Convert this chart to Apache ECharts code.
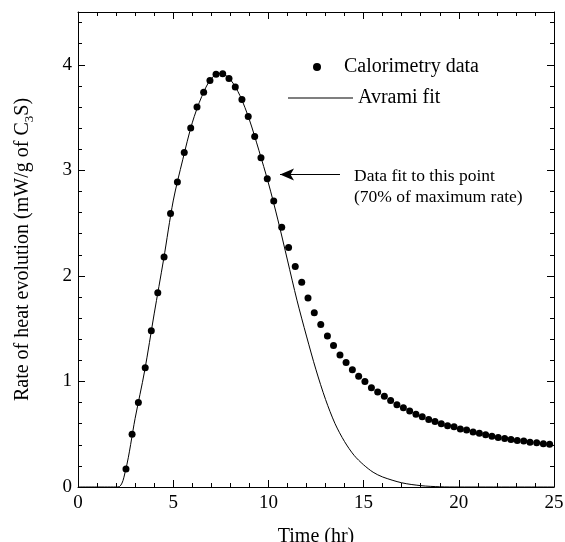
<!DOCTYPE html>
<html>
<head>
<meta charset="utf-8">
<script src="https://cdn.jsdelivr.net/npm/echarts@6/dist/echarts.min.js"></script>
<style>
  html, body { margin: 0; padding: 0; background: #fff; }
  #chart { width: 565px; height: 542px; }
</style>
</head>
<body>
<div id="chart"></div>
<script>
// calorimetry measurements (time in hr, rate in mW/g)
var dataTime = [2.52, 2.84, 3.17, 3.53, 3.85, 4.19, 4.52, 4.86, 5.22, 5.58, 5.92, 6.25, 6.60, 6.93,
    7.25, 7.60, 7.93, 8.26, 8.61, 8.94, 9.28, 9.61, 9.94, 10.28, 10.70, 11.06, 11.41, 11.75, 12.08,
    12.41, 12.75, 13.10, 13.42, 13.76, 14.08, 14.41, 14.74, 15.07, 15.41, 15.74, 16.09, 16.42, 16.75,
    17.09, 17.42, 17.75, 18.08, 18.42, 18.75, 19.08, 19.41, 19.75, 20.08, 20.41, 20.75, 21.08, 21.41,
    21.74, 22.07, 22.41, 22.74, 23.07, 23.41, 23.74, 24.09, 24.44, 24.77];
var dataRate = [0.17, 0.50, 0.80, 1.13, 1.48, 1.84, 2.18, 2.59, 2.89, 3.17, 3.40, 3.60, 3.74, 3.85,
    3.91, 3.915, 3.87, 3.79, 3.67, 3.51, 3.32, 3.12, 2.92, 2.71, 2.46, 2.27, 2.09, 1.94, 1.79,
    1.65, 1.54, 1.43, 1.34, 1.25, 1.18, 1.11, 1.05, 1.00, 0.94, 0.90, 0.86, 0.82, 0.78,
    0.75, 0.72, 0.69, 0.665, 0.64, 0.62, 0.60, 0.58, 0.57, 0.55, 0.54, 0.52, 0.51, 0.495,
    0.48, 0.47, 0.46, 0.45, 0.44, 0.435, 0.425, 0.42, 0.41, 0.405];

// avrami fit curve
var fitTime = [0, 2.1, 2.5, 3, 3.5, 4, 4.5, 5, 5.5, 6, 6.5, 7, 7.5, 8, 8.5, 9, 9.5, 10, 10.5, 11,
    11.5, 12, 12.5, 13, 13.5, 14, 14.5, 15, 15.5, 16, 17, 18, 19, 20, 25];
var fitRate = [0, 0, 0.16, 0.65, 1.10, 1.64, 2.16, 2.71, 3.10, 3.45, 3.70, 3.87, 3.92, 3.86, 3.71, 3.48,
    3.19, 2.88, 2.53, 2.15, 1.77, 1.43, 1.11, 0.83, 0.60, 0.43, 0.30, 0.21, 0.14, 0.095, 0.04, 0.013,
    0.002, 0, 0];

var xTicks = [0, 5, 10, 15, 20, 25];
var yTicks = [0, 1, 2, 3, 4];

var serif = 'Liberation Serif';

function zip(a, b) {
    var out = [];
    a.forEach(function (v, i) { out.push([v, b[i]]); });
    return out;
}

function xAxisCfg(pos, showLabel) {
    return {
        type: 'value', position: pos, min: xTicks[0], max: xTicks[xTicks.length - 1], interval: 5,
        name: showLabel ? 'Time (hr)' : '', nameLocation: 'middle', nameGap: 40,
        nameTextStyle: { fontFamily: serif, fontSize: 20, color: '#000' },
        axisLine: { show: true, onZero: false, lineStyle: { color: '#000', width: 1 } },
        axisTick: { show: true, inside: true, length: 7, lineStyle: { color: '#000' } },
        minorTick: { show: true, splitNumber: 5, length: 4, lineStyle: { color: '#000' } },
        axisLabel: { show: showLabel, margin: 7, fontFamily: serif, fontSize: 19, color: '#000' },
        splitLine: { show: false }, minorSplitLine: { show: false }
    };
}

function yAxisCfg(pos, showLabel) {
    return {
        type: 'value', position: pos, min: yTicks[0], max: 4.5, interval: 1,
        name: showLabel ? 'Rate of heat evolution (mW/g of C{sub|3}S)' : '',
        nameLocation: 'middle', nameGap: 42,
        nameTextStyle: {
            fontFamily: serif, fontSize: 20, color: '#000', lineHeight: 26,
            rich: { sub: { fontFamily: serif, fontSize: 13, lineHeight: 13, verticalAlign: 'bottom', color: '#000' } }
        },
        axisLine: { show: true, onZero: false, lineStyle: { color: '#000', width: 1 } },
        axisTick: { show: true, inside: true, length: 7, lineStyle: { color: '#000' } },
        minorTick: { show: true, splitNumber: 5, length: 4, lineStyle: { color: '#000' } },
        axisLabel: { show: showLabel, showMaxLabel: false, margin: 6, fontFamily: serif, fontSize: 19, color: '#000' },
        splitLine: { show: false }, minorSplitLine: { show: false }
    };
}

var legendText = { fontFamily: serif, fontSize: 20, color: '#000', lineHeight: 20 };

var chart = echarts.init(document.getElementById('chart'));
var option = {
    animation: false,
    backgroundColor: '#fff',
    grid: { left: 78, right: 11, top: 12, bottom: 55, containLabel: false, outerBoundsMode: 'none' },
    xAxis: [xAxisCfg('bottom', true), xAxisCfg('top', false)],
    yAxis: [yAxisCfg('left', true), yAxisCfg('right', false)],
    legend: [
        {
            left: 308, top: 52, itemWidth: 44, itemHeight: 8, textStyle: legendText,
            data: [{ name: 'Calorimetry data', icon: 'circle' }]
        },
        {
            left: 283, top: 83, itemWidth: 65, itemHeight: 8, textStyle: legendText,
            data: [{ name: 'Avrami fit', icon: 'path://M0,0L60,0L60,1L0,1Z' }]
        }
    ],
    graphic: [
        { type: 'text', left: 354, top: 167, style: { text: 'Data fit to this point', fontFamily: serif, fontSize: 17.5, fill: '#000' } },
        { type: 'text', left: 354, top: 188, style: { text: '(70% of maximum rate)', fontFamily: serif, fontSize: 17.5, fill: '#000' } }
    ],
    series: [
        {
            name: 'Avrami fit', type: 'line', data: zip(fitTime, fitRate), smooth: 0.3,
            symbol: 'none', lineStyle: { color: '#000', width: 1 }, itemStyle: { color: '#000' },
            z: 2,
            markLine: {
                silent: true, symbol: ['none', 'arrow'], symbolSize: [9, 14],
                lineStyle: { color: '#000', width: 1, type: 'solid' }, label: { show: false },
                data: [[{ coord: [13.76, 2.96] }, { coord: [10.61, 2.96] }]]
            }
        },
        {
            name: 'Calorimetry data', type: 'scatter', data: zip(dataTime, dataRate),
            symbol: 'circle', symbolSize: 7, itemStyle: { color: '#000', opacity: 1 }, z: 3
        }
    ]
};
chart.setOption(option);
</script>
</body>
</html>
